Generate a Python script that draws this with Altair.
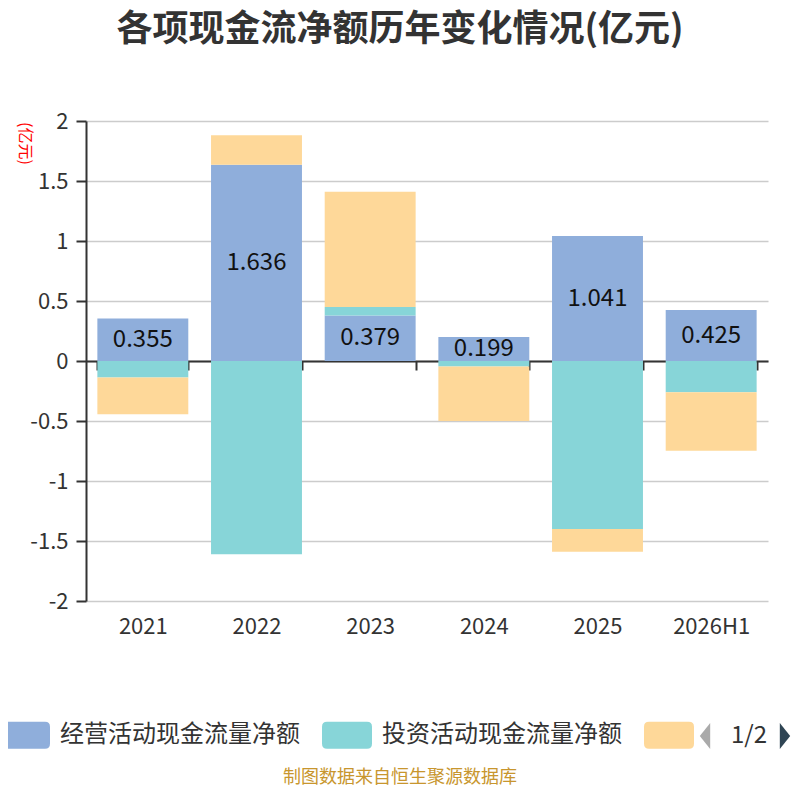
import altair as alt
import pandas as pd

years = ["2021", "2022", "2023", "2024", "2025", "2026H1"]
series = ["经营活动现金流量净额", "投资活动现金流量净额", "筹资活动现金流量净额"]
operating = [0.355, 1.636, 0.379, 0.199, 1.041, 0.425]
investing = [-0.138, -1.61, 0.07, -0.045, -1.40, -0.26]
financing = [-0.306, 0.245, 0.961, -0.455, -0.19, -0.487]
colors = ["#8faedb", "#87d5d8", "#fed899"]
y_ticks = [-2, -1.5, -1, -0.5, 0, 0.5, 1, 1.5, 2]

FONT = "Noto Sans CJK SC"

rows = []
for i, s in enumerate(series):
    vals = [operating, investing, financing][i]
    for y, v in zip(years, vals):
        rows.append({"year": y, "series": s, "value": v, "idx": i})
df = pd.DataFrame(rows)

x_axis = alt.Axis(
    title=None, offset=-240, labelPadding=246, labelAngle=0,
    tickBand="extent", tickSize=9, tickWidth=2, tickColor="#333",
    domainColor="#333", domainWidth=2, labelFontSize=22, labelColor="#333",
    labelFont=FONT, grid=False,
)
y_axis = alt.Axis(
    values=y_ticks,
    labelExpr="datum.value == 0 ? '0' : (datum.value < 0 ? '-' + format(-datum.value, '~g') : format(datum.value, '~g'))",
    labelFontSize=22, labelColor="#333", labelFont=FONT, labelPadding=8,
    tickSize=10, tickWidth=2, tickColor="#333",
    domainColor="#333", domainWidth=2,
    gridColor="#cccccc", gridWidth=1.5,
    title="(亿元)", titleAngle=90, titleColor="#ff0000", titleFontSize=16,
    titleFontWeight="normal", titleFont=FONT, titleX=-62, titleY=22,
    titleAlign="center", titleBaseline="middle",
)

x_enc = alt.X("year:N", sort=years,
              scale=alt.Scale(paddingInner=0.2, paddingOuter=0.1), axis=x_axis)
y_scale = alt.Scale(domain=[-2, 2], nice=False)

legend_shape = ("M-0.8,-0.54 L0.8,-0.54 Q1,-0.54 1,-0.34 L1,0.34 Q1,0.54 0.8,0.54 "
                "L-0.8,0.54 Q-1,0.54 -1,0.34 L-1,-0.34 Q-1,-0.54 -0.8,-0.54 Z")

bars = alt.Chart(df).mark_bar().encode(
    x=x_enc,
    y=alt.Y("value:Q", stack="zero", scale=y_scale, axis=y_axis),
    color=alt.Color(
        "series:N",
        scale=alt.Scale(domain=series, range=colors),
        legend=alt.Legend(
            orient="none", legendX=-86, legendY=589, direction="horizontal",
            title=None, symbolType=legend_shape, symbolSize=2500,
            symbolStrokeWidth=0, symbolOpacity=1,
            labelFontSize=24, labelColor="#333", labelFont=FONT,
            labelOffset=10, columnPadding=22, labelLimit=400,
            labelExpr="datum.label == '筹资活动现金流量净额' ? '' : datum.label",
        ),
    ),
    order=alt.Order("idx:Q"),
)

labels = alt.Chart(df).transform_filter(
    alt.datum.series == series[0]
).transform_calculate(
    mid="datum.value / 2"
).mark_text(fontSize=24, color="#111", font=FONT).encode(
    x=x_enc,
    y=alt.Y("mid:Q", scale=y_scale, axis=y_axis),
    text=alt.Text("value:Q", format=".3f"),
)

one = alt.Data(values=[{"t": "1/2"}])
pager_text = alt.Chart(one).mark_text(
    fontSize=24, color="#333", font=FONT
).encode(x=alt.value(663), y=alt.value(615), text="t:N")

tri_left = alt.Chart(one).mark_point(
    shape="M0.4,-1 L-0.4,0 L0.4,1 Z", filled=True, opacity=1, color="#aaaaaa", size=676
).encode(x=alt.value(619), y=alt.value(615))
tri_right = alt.Chart(one).mark_point(
    shape="M-0.4,-1 L0.4,0 L-0.4,1 Z", filled=True, opacity=1, color="#2f4554", size=676
).encode(x=alt.value(699), y=alt.value(615))

foot = alt.Data(values=[{"t": "制图数据来自恒生聚源数据库"}])
footer = alt.Chart(foot).mark_text(
    fontSize=18, color="#c8962e", font=FONT
).encode(x=alt.value(314), y=alt.value(657), text="t:N")

chart = alt.layer(bars, labels, pager_text, tri_left, tri_right, footer).properties(
    width=682, height=480,
    padding={"left": 78, "top": 113, "right": 24, "bottom": 186},
    autosize=alt.AutoSizeParams(type="none"),
    title=alt.Title(
        "各项现金流净额历年变化情况(亿元)", fontSize=36, fontWeight="bold",
        color="#333", anchor="middle", offset=61, dx=-27, font=FONT,
    ),
).configure_view(stroke=None)

chart.save("out.html", embed_options={"renderer": "svg", "actions": False})
